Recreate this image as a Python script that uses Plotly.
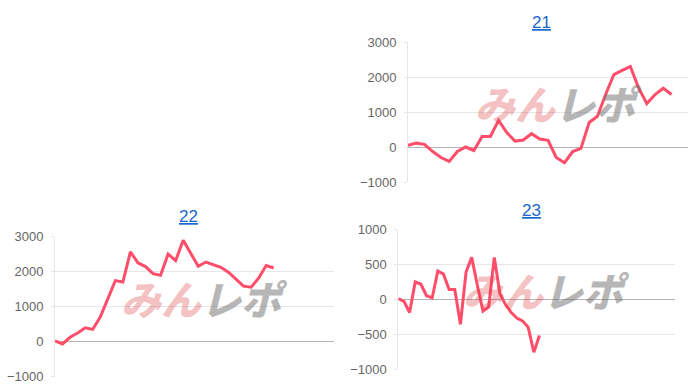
import plotly.graph_objects as go

# ---- data ----
titles = ["21", "22", "23"]
values_21 = [50, 110, 75, -130, -300, -410, -130, 0, -100, 300, 300, 760, 410, 170, 200, 380,
             230, 190, -300, -450, -130, -40, 700, 880, 1500, 2070, 2190, 2300, 1690, 1240,
             1500, 1680, 1500]
values_22 = [20, -70, 120, 240, 390, 345, 700, 1240, 1740, 1700, 2560, 2250, 2140, 1940, 1890,
             2500, 2310, 2890, 2500, 2150, 2270, 2200, 2120, 1980, 1790, 1580, 1550, 1810,
             2170, 2100]
values_23 = [10, -30, -190, 250, 215, 50, 20, 405, 360, 140, 140, -360, 390, 600, 200, -170,
             -110, 600, 80, -80, -190, -270, -310, -400, -760, -520]
x_slots = [34, 37, 49]          # number of category slots on each x axis
y_ranges = [[-1000, 3000], [-1000, 3000], [-1000, 1000]]
y_dticks = [1000, 1000, 500]
watermark_a = "みん"
watermark_b = "レポ"

W, H = 700, 390
LINE = "rgb(255,77,106)"

# pixel boxes of plots: (left, right, top, bottom)
boxes = [(408, 688, 42, 182), (55, 334, 236.5, 376.5), (398.3, 675, 229.5, 369)]
title_pos = [(541, 22), (188, 216), (531, 210)]

series = [values_21, values_22, values_23]

fig = go.Figure()
annotations = []
for i, (vals, box) in enumerate(zip(series, boxes)):
    n = i + 1
    xa = "x" if n == 1 else f"x{n}"
    ya = "y" if n == 1 else f"y{n}"
    fig.add_trace(go.Scatter(x=list(range(len(vals))), y=vals, mode="lines",
                             line=dict(color=LINE, width=3), xaxis=xa, yaxis=ya,
                             showlegend=False, hoverinfo="skip"))
    l, r, t, b = box
    xkey = "xaxis" if n == 1 else f"xaxis{n}"
    ykey = "yaxis" if n == 1 else f"yaxis{n}"
    fig.layout[xkey] = dict(domain=[l / W, r / W], range=[0, x_slots[i]], showgrid=False,
                            showticklabels=False, zeroline=False, showline=False,
                            automargin=False, anchor=ya, fixedrange=True)
    fig.layout[ykey] = dict(domain=[1 - b / H, 1 - t / H], range=y_ranges[i], dtick=y_dticks[i],
                            showgrid=True, gridcolor="#e6e6e6", gridwidth=1,
                            zeroline=True, zerolinecolor="#b4b4b4", zerolinewidth=1,
                            showline=True, linecolor="#e6e6e6", linewidth=1,
                            ticks="outside", ticklen=3, tickcolor="#e6e6e6",
                            ticklabelstandoff=5, automargin=False,
                            tickfont=dict(family="Liberation Sans, Arial", size=13, color="#666666"),
                            anchor=xa, fixedrange=True)
    tx, ty = title_pos[i]
    annotations.append(dict(x=tx / W, y=1 - ty / H, xref="paper", yref="paper",
                            text=f"<u>{titles[i]}</u>", showarrow=False,
                            font=dict(family="Liberation Sans, Arial", size=17, color="#1a66cc"),
                            xanchor="center", yanchor="middle"))
    cx = (l + r) / 2 + 10
    cy = (t + b) / 2 - 9
    annotations.append(dict(x=cx / W, y=1 - cy / H, xref="paper", yref="paper",
                            text=(f"<i><span style='color:rgba(220,60,60,0.32)'>{watermark_a}</span>"
                                  f"<span style='color:rgba(110,110,110,0.5)'>{watermark_b}</span></i>"),
                            showarrow=False,
                            font=dict(family="Noto Sans CJK JP", size=40, weight=900),
                            xanchor="center", yanchor="middle"))

fig.update_layout(width=W, height=H, margin=dict(l=0, r=0, t=0, b=0, pad=0, autoexpand=False),
                  paper_bgcolor="white", plot_bgcolor="white",
                  annotations=annotations)

fig.write_html("out.html", config=dict(displayModeBar=False, responsive=False),
               post_script="document.body.style.margin='0';")
